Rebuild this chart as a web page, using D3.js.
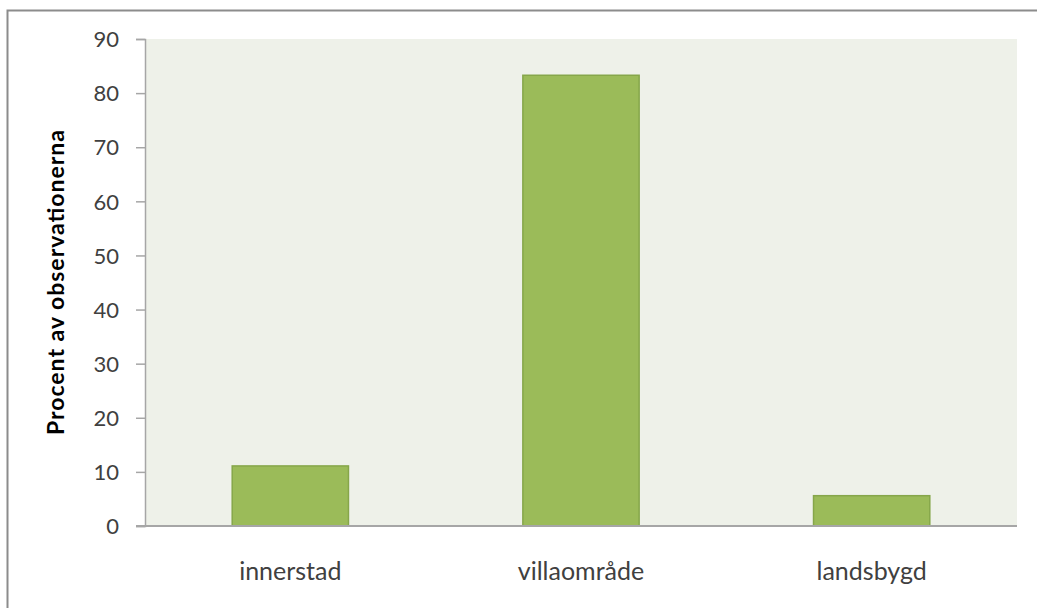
<!DOCTYPE html>
<html>
<head>
<meta charset="utf-8">
<script src="https://d3js.org/d3.v7.min.js"></script>
<style>
    body { margin: 0; background: #fff; }
    .tick text { font: 22px Lato, "Open Sans", sans-serif; fill: #404040; }
    .cat-label { font: 25px Lato, "Open Sans", sans-serif; fill: #404040; }
    .y-title { font: bold 23px Lato, "Open Sans", sans-serif; fill: #000; }
</style>
</head>
<body>
<svg class="target" width="1037" height="608"></svg>
<script>
    // data
    const categories = ["innerstad", "villaområde", "landsbygd"];
    const values = [11.1, 83.3, 5.6];
    const yTicks = [0, 10, 20, 30, 40, 50, 60, 70, 80, 90];
    const yTitle = "Procent av observationerna";

    let svg = d3.select(".target");

    let plot = {left: 145, right: 1017, top: 39, bottom: 526};

    // outer frame
    svg.append("rect")
        .attr("x", 7.5).attr("y", 10.5)
        .attr("width", 1050).attr("height", 620)
        .attr("fill", "#fff")
        .attr("stroke", "#8c8c8c")
        .attr("stroke-width", 2);

    let x = d3.scaleBand()
        .domain(categories)
        .range([plot.left, plot.right])
        .paddingInner(0.6)
        .paddingOuter(0.3);

    let y = d3.scaleLinear()
        .domain([0, 90])
        .range([plot.bottom, plot.top]);

    // plot background
    svg.append("rect")
        .attr("x", plot.left).attr("y", plot.top)
        .attr("width", plot.right - plot.left)
        .attr("height", plot.bottom - plot.top)
        .attr("fill", "#eef1e9");

    // bars
    svg.append("g")
        .selectAll("rect")
        .data(categories)
        .enter().append("rect")
        .attr("x", d => x(d))
        .attr("y", (d, i) => y(values[i]))
        .attr("width", x.bandwidth())
        .attr("height", (d, i) => y(0) - y(values[i]))
        .attr("fill", "#9bbb59")
        .attr("stroke", "#86a64a")
        .attr("stroke-width", 1.5);

    // y axis
    let yAxis = svg.append("g")
        .attr("transform", "translate(" + plot.left + ",0)")
        .call(d3.axisLeft(y).tickValues(yTicks).tickSize(9).tickPadding(17));
    yAxis.select(".domain").attr("stroke", "#a6a6a6").attr("stroke-width", 1.5);
    yAxis.selectAll(".tick line").attr("stroke", "#a6a6a6").attr("stroke-width", 1.5);
    yAxis.selectAll(".tick text").attr("dy", "0.35em");

    // x axis line
    svg.append("line")
        .attr("x1", plot.left - 9).attr("x2", plot.right)
        .attr("y1", plot.bottom).attr("y2", plot.bottom)
        .attr("stroke", "#a6a6a6").attr("stroke-width", 2);

    // category labels
    svg.append("g")
        .selectAll("text")
        .data(categories)
        .enter().append("text")
        .attr("class", "cat-label")
        .attr("x", d => x(d) + x.bandwidth() / 2)
        .attr("y", 580)
        .attr("text-anchor", "middle")
        .text(d => d);

    // y title
    svg.append("text")
        .attr("class", "y-title")
        .attr("transform", "translate(64," + ((plot.top + plot.bottom) / 2) + ") rotate(-90)")
        .attr("text-anchor", "middle")
        .attr("textLength", 305)
        .attr("lengthAdjust", "spacing")
        .text(yTitle);
</script>
</body>
</html>
